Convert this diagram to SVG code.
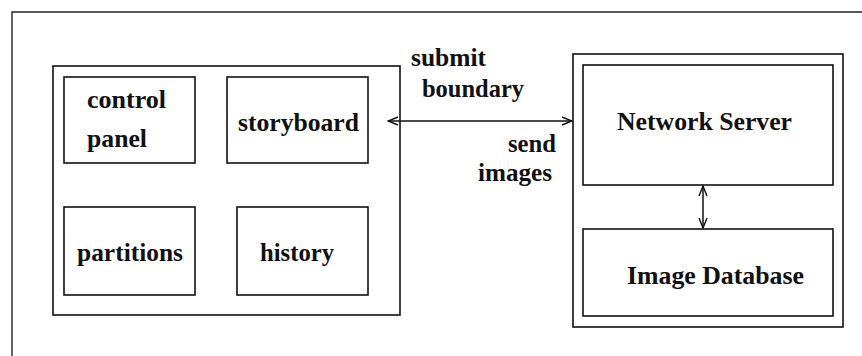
<svg xmlns="http://www.w3.org/2000/svg" width="862" height="356" viewBox="0 0 862 356">
<style>
.box{fill:none;stroke:#111;stroke-width:1.6}
.frame{fill:none;stroke:#222;stroke-width:1.4}
.t{font-family:"Liberation Serif","Times New Roman",serif;font-weight:bold;font-size:26px;fill:#111}
.conn{fill:none;stroke:#111;stroke-width:1.5}
</style>
<defs>
<marker id="ah" viewBox="0 0 12 10" refX="11" refY="5" markerWidth="12" markerHeight="10" markerUnits="userSpaceOnUse" orient="auto-start-reverse">
<path d="M1,1 L11,5 L1,9" fill="none" stroke="#111" stroke-width="1.4"/>
</marker>
</defs>
<rect width="862" height="356" fill="#fff"/>
<path class="frame" d="M12,356 L12,12 L862,12"/>
<g id="client">
<rect class="box" x="53" y="66" width="347" height="249"/>
</g>
<g id="control-panel">
<rect class="box" x="64" y="77" width="131" height="86"/>
<text class="t" x="87" y="108" textLength="79" lengthAdjust="spacingAndGlyphs">control</text>
<text class="t" x="87" y="147" textLength="60" lengthAdjust="spacingAndGlyphs">panel</text>
</g>
<g id="storyboard">
<rect class="box" x="227" y="77" width="141" height="86"/>
<text class="t" x="238" y="131" textLength="121" lengthAdjust="spacingAndGlyphs">storyboard</text>
</g>
<g id="partitions">
<rect class="box" x="64" y="207" width="131" height="88"/>
<text class="t" x="77" y="261" textLength="106" lengthAdjust="spacingAndGlyphs">partitions</text>
</g>
<g id="history">
<rect class="box" x="237" y="207" width="131" height="88"/>
<text class="t" x="260" y="261" textLength="74" lengthAdjust="spacingAndGlyphs">history</text>
</g>
<g id="server-side">
<rect class="box" x="573" y="54" width="270" height="273"/>
</g>
<g id="network-server">
<rect class="box" x="583" y="65" width="250" height="120"/>
<text class="t" x="617" y="130" textLength="175" lengthAdjust="spacingAndGlyphs">Network Server</text>
</g>
<g id="image-database">
<rect class="box" x="583" y="229" width="250" height="87"/>
<text class="t" x="627" y="284" textLength="177" lengthAdjust="spacingAndGlyphs">Image Database</text>
</g>
<g id="connectors">
<line class="conn" x1="388" y1="121" x2="572" y2="121" marker-start="url(#ah)" marker-end="url(#ah)"/>
<line class="conn" x1="703" y1="186" x2="703" y2="228" marker-start="url(#ah)" marker-end="url(#ah)"/>
<text class="t" x="411" y="66" textLength="75" lengthAdjust="spacingAndGlyphs">submit</text>
<text class="t" x="422" y="97" textLength="102" lengthAdjust="spacingAndGlyphs">boundary</text>
<text class="t" x="508" y="152" textLength="48" lengthAdjust="spacingAndGlyphs">send</text>
<text class="t" x="478" y="181" textLength="74" lengthAdjust="spacingAndGlyphs">images</text>
</g>
</svg>
